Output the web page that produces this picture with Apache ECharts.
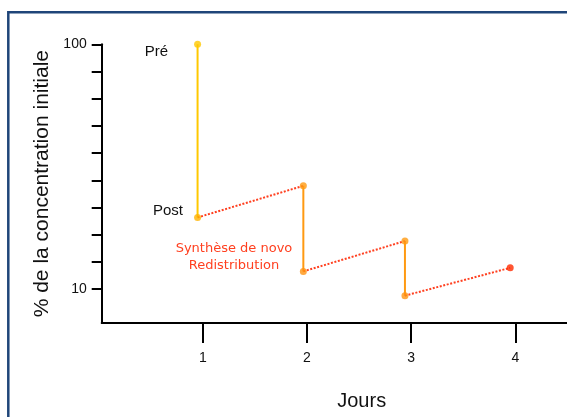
<!DOCTYPE html>
<html>
<head>
<meta charset="utf-8">
<script src="https://cdn.jsdelivr.net/npm/echarts@6/dist/echarts.min.js"></script>
<style>
  html, body { margin: 0; padding: 0; background: #fff; }
  #chart { width: 567px; height: 417px; }
</style>
</head>
<body>
<div id="chart"></div>
<script>
// jours des prises (axe x)
var jours = [0.95, 1.965, 2.94, 3.95]
// concentration juste avant chaque dose (% initiale)
var avant = [100, 26.4, 15.7, 12.2]
// concentration juste après chaque dose
var apres = [19.6, 11.8, 9.39]
// graduations
var tickJours = [1, 2, 3, 4]
var tickConc = [0, 1, 2, 3, 4, 5, 6, 7, 8, 9] // 9 pas égaux entre 10 et 100

var couleurChute = ['#ffc800', '#ff9a12', '#ff9a12']
var couleurAvant = ['#ffc800', '#ff9a12', '#ff9a12', '#ff2a00']
var couleurApres = ['#ffb400', '#ff9412', '#ff9412']
var rouge = '#ff4020'
var police = 'Liberation Sans'

var series = []
// chutes (traits pleins)
for (var i = 0; i < apres.length; i++) {
  series.push({
    type: 'line',
    yAxisIndex: 0,
    showSymbol: false,
    silent: true,
    lineStyle: { color: couleurChute[i], width: 2 },
    data: [[jours[i], avant[i]], [jours[i], apres[i]]]
  })
}
// remontées (pointillés)
for (var j = 0; j < apres.length; j++) {
  series.push({
    type: 'line',
    yAxisIndex: 0,
    showSymbol: false,
    silent: true,
    lineStyle: { color: rouge, width: 2, type: [2, 1.6] },
    data: [[jours[j], apres[j]], [jours[j + 1], avant[j + 1]]]
  })
}
// points
var points = []
jours.forEach(function (x, k) {
  points.push({ value: [x, avant[k]], itemStyle: { color: couleurAvant[k] } })
  if (k < apres.length) {
    points.push({ value: [x, apres[k]], itemStyle: { color: couleurApres[k] } })
  }
})
series.push({
  type: 'scatter',
  yAxisIndex: 0,
  symbolSize: 7,
  z: 5,
  data: points
})

var chart = echarts.init(document.getElementById('chart'), null, { renderer: 'canvas' })
chart.setOption({
  backgroundColor: '#fff',
  animation: false,
  grid: { left: 101.7, top: 44.3, height: 278.7, width: 520, outerBoundsMode: 'none', containLabel: false },
  xAxis: {
    type: 'value',
    min: 0.03,
    max: 5.02,
    splitLine: { show: false },
    axisLine: { onZero: false, lineStyle: { color: '#000', width: 2 } },
    axisTick: { customValues: tickJours, length: 20, lineStyle: { color: '#000', width: 2 } },
    axisLabel: { customValues: tickJours, margin: 28, fontSize: 14, color: '#111', fontFamily: police },
    name: 'Jours',
    nameLocation: 'middle',
    nameGap: 68,
    nameTextStyle: { fontSize: 20, color: '#111', fontFamily: police }
  },
  yAxis: [
    {
      type: 'log',
      logBase: 10,
      min: 7.26,
      max: 100,
      position: 'left',
      splitLine: { show: false },
      axisLine: { show: true, onZero: false, lineStyle: { color: '#000', width: 2 } },
      axisTick: { show: false },
      axisLabel: { showMinLabel: false, margin: 15, fontSize: 14, color: '#111', fontFamily: police },
      name: '% de la concentration initiale',
      nameLocation: 'middle',
      nameGap: 48,
      nameTextStyle: { fontSize: 21, color: '#111', fontFamily: police }
    },
    {
      // graduations régulières du dessin original
      type: 'value',
      min: -1.25,
      max: 9,
      position: 'left',
      offset: 0,
      splitLine: { show: false },
      axisLine: { show: false, onZero: false },
      axisLabel: { show: false },
      axisTick: { customValues: tickConc, length: 10, lineStyle: { color: '#000', width: 2 } }
    }
  ],
  graphic: [
    {
      type: 'rect',
      shape: { x: 8.3, y: 12.3, width: 700, height: 600 },
      style: { fill: 'none', stroke: '#1f4579', lineWidth: 2.5 },
      silent: true
    },
    {
      type: 'text', x: 156.5, y: 51.7,
      style: { text: 'Pré', fill: '#111', font: '15px "Liberation Sans"', align: 'center', verticalAlign: 'middle', textAlign: 'center', textVerticalAlign: 'middle' }
    },
    {
      type: 'text', x: 168, y: 210.7,
      style: { text: 'Post', fill: '#111', font: '15px "Liberation Sans"', align: 'center', verticalAlign: 'middle', textAlign: 'center', textVerticalAlign: 'middle' }
    },
    {
      type: 'text', x: 234, y: 257.3,
      style: { text: 'Synthèse de novo\nRedistribution', fill: rouge, font: '13px "DejaVu Sans"', lineHeight: 17, align: 'center', verticalAlign: 'middle', textAlign: 'center', textVerticalAlign: 'middle' }
    }
  ],
  series: series
})
</script>
</body>
</html>
